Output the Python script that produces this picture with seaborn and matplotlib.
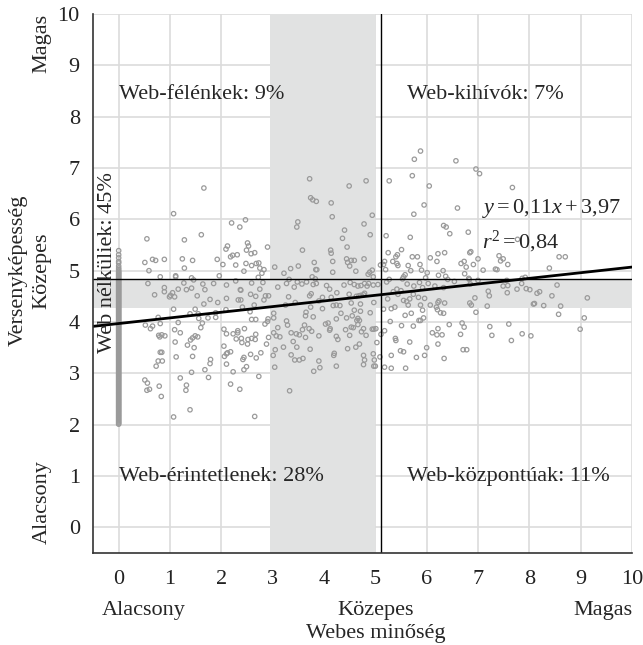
import numpy as np
import pandas as pd
import matplotlib
matplotlib.use("Agg")
import matplotlib.pyplot as plt
import matplotlib.transforms as mtransforms
import seaborn as sns

# ---------------------------------------------------------------
# data: (web quality, competitiveness)
# ---------------------------------------------------------------
# firms with a website, low web quality (0 < x < ~3)
pts_low = [
    (1.66, 6.61), (1.07, 6.11), (0.55, 5.62), (1.61, 5.70), (1.28, 5.60), (2.20, 5.93), (2.47, 5.99), (2.36, 5.85),
    (0.51, 5.16), (0.66, 5.22), (0.72, 5.20), (0.89, 5.22), (0.59, 5.00), (1.24, 5.23), (1.44, 5.20), (1.28, 5.05),
    (1.11, 4.90), (1.11, 4.88), (0.81, 4.88), (0.57, 4.75), (0.89, 4.67), (0.89, 4.59), (0.70, 4.53),
    (0.99, 4.49), (1.05, 4.57), (1.09, 4.49), (1.01, 4.52), (1.16, 4.64), (1.27, 4.76),
    (1.32, 4.63), (1.42, 4.66), (1.42, 4.86), (1.46, 4.82), (1.53, 4.51), (1.64, 4.74), (1.68, 4.63),
    (1.78, 4.44), (1.66, 4.35), (1.85, 4.75), (1.92, 5.22), (2.03, 5.12), (1.96, 4.90), (1.93, 4.38),
    (2.10, 4.72), (2.10, 4.46), (2.09, 4.24), (2.09, 5.42), (2.12, 5.48), (2.18, 5.27), (2.22, 5.30),
    (2.28, 5.11), (2.28, 4.80), (2.37, 4.63), (2.38, 4.62), (2.33, 4.43), (2.38, 4.43),
    (2.51, 5.54), (2.53, 5.48), (2.49, 5.40), (2.58, 5.33), (2.65, 5.35), (2.48, 5.14), (2.44, 4.99), (2.59, 5.10),
    (2.68, 5.14), (2.73, 5.15), (2.75, 5.05), (2.83, 5.02), (2.79, 4.95), (2.72, 4.87), (2.90, 5.46), (2.81, 4.77),
    (2.59, 4.76), (2.57, 4.54), (2.67, 4.50), (2.75, 4.64), (2.86, 4.51), (2.92, 4.51), (2.83, 4.43), (2.64, 4.33),
    (2.41, 4.29), (2.56, 4.20), (2.31, 5.31),
    (0.52, 3.94), (0.62, 3.87), (0.66, 3.92), (0.77, 4.09), (0.81, 3.97), (1.07, 4.25), (1.16, 3.99), (1.09, 3.85),
    (1.20, 3.79), (1.10, 3.61), (1.39, 4.16), (1.49, 4.25), (1.55, 4.16), (1.56, 4.07), (1.63, 3.98), (1.60, 3.89),
    (1.74, 4.08), (1.89, 4.09), (1.89, 4.18),
    (0.80, 3.71), (0.84, 3.75), (0.90, 3.73), (0.78, 3.74), (1.40, 3.65), (1.44, 3.69), (1.49, 3.73), (1.54, 3.71),
    (1.34, 3.55), (1.47, 3.50), (0.81, 3.41), (0.84, 3.41), (0.77, 3.24), (0.85, 3.24), (0.73, 3.14), (1.12, 3.32),
    (1.44, 3.33), (1.79, 3.27), (1.78, 3.19), (1.68, 3.07), (1.75, 2.92), (1.42, 3.02),
    (0.51, 2.87), (0.56, 2.81), (0.55, 2.67), (0.60, 2.69), (0.79, 2.75), (0.83, 2.55),
    (1.20, 2.91), (1.32, 2.77), (1.31, 2.67), (1.39, 2.29), (1.07, 2.15),
    (2.05, 3.86), (2.10, 3.77), (2.23, 3.77), (2.32, 3.79), (2.32, 3.83), (2.39, 3.68), (2.29, 3.67), (2.40, 3.60),
    (2.45, 3.87), (2.52, 3.66), (2.59, 3.68), (2.66, 3.66), (2.67, 3.76), (2.51, 3.57),
    (2.05, 3.53), (2.10, 3.38), (2.06, 3.33), (2.12, 3.40), (2.18, 3.42), (2.10, 3.18), (2.23, 3.03), (2.44, 3.31),
    (2.42, 3.27), (2.49, 3.13), (2.44, 3.07), (2.57, 3.37), (2.68, 3.30), (2.77, 3.40), (2.88, 3.57), (2.92, 3.70),
    (2.85, 3.96), (2.90, 4.01), (2.91, 4.06), (2.67, 4.05), (2.59, 4.05), (2.18, 2.79), (2.36, 2.69), (2.65, 2.16),
    (2.73, 2.94),
]

# medium web quality (~3 .. ~5.1)
pts_mid = [
    (3.72, 6.79), (3.74, 6.42), (3.78, 6.38), (3.85, 6.35), (3.49, 5.95), (3.47, 5.85), (3.58, 5.40),
    (3.04, 5.07), (3.22, 4.95), (3.35, 5.04), (3.50, 5.09),
    (3.10, 4.68), (3.27, 4.75), (3.32, 4.83), (3.42, 4.68), (3.48, 4.78), (3.57, 4.74), (3.66, 4.78),
    (3.31, 4.49), (3.25, 4.33), (3.44, 4.38), (3.72, 4.51), (3.75, 4.55), (3.65, 4.19), (3.64, 4.12), (3.74, 4.29),
    (3.79, 4.10), (3.90, 4.41),
    (3.02, 4.17), (3.02, 4.08), (3.10, 3.89), (3.27, 4.02), (3.29, 3.94), (3.36, 3.79), (3.46, 3.77), (3.52, 3.75),
    (3.58, 3.85), (3.62, 3.94), (3.71, 3.87), (3.76, 3.82), (3.90, 3.73), (3.64, 3.70),
    (3.02, 3.79), (3.07, 3.73), (3.14, 3.71), (3.21, 3.51), (3.05, 3.46), (3.01, 3.35), (3.04, 3.12), (3.40, 3.62),
    (3.47, 3.51), (3.36, 3.36), (3.43, 3.26), (3.52, 3.26), (3.59, 3.29), (3.73, 3.47), (3.90, 3.24), (3.92, 3.11),
    (3.80, 3.04), (3.33, 2.66),
    (4.49, 6.65), (4.82, 6.75), (4.14, 6.32), (4.16, 6.05), (4.94, 6.08), (4.78, 5.91), (4.40, 5.79), (4.36, 5.63),
    (4.45, 5.46), (4.90, 5.70), (4.13, 5.40), (4.14, 5.34), (4.17, 5.18), (4.17, 4.97), (4.44, 5.23), (4.46, 5.16),
    (4.50, 5.09), (4.53, 5.20), (4.59, 5.20), (4.62, 4.99), (4.78, 5.23),
    (3.81, 5.16), (3.84, 5.02), (3.86, 5.02), (3.83, 4.84), (3.77, 4.88),
    (4.86, 4.93), (4.94, 5.01), (4.89, 4.97), (4.96, 4.88), (4.87, 4.75), (4.96, 4.72), (4.79, 4.75), (4.84, 4.70),
    (3.79, 4.73), (3.85, 4.75), (4.05, 4.71), (4.11, 4.64), (4.39, 4.72), (4.51, 4.77), (4.59, 4.73), (4.66, 4.70),
    (4.72, 4.71), (3.97, 4.48), (4.14, 4.48), (4.25, 4.57), (4.49, 4.54), (4.68, 4.51), (4.72, 4.52), (4.77, 4.53),
    (4.79, 4.56), (4.97, 4.38), (5.05, 4.73),
    (3.97, 4.26), (4.18, 4.32), (4.24, 4.33), (4.31, 4.32), (4.53, 4.37), (4.71, 4.35), (4.63, 4.50),
    (4.03, 3.96), (4.08, 3.98), (4.12, 3.87), (4.24, 4.06), (4.33, 4.17), (4.44, 4.08), (4.55, 4.12), (4.59, 4.23),
    (4.71, 4.21), (4.66, 4.07), (4.69, 4.03), (4.90, 4.18),
    (4.11, 3.84), (4.24, 3.72), (4.27, 3.66), (4.42, 3.85), (4.50, 3.74), (4.53, 3.90), (4.57, 3.89), (4.64, 4.03),
    (4.66, 3.95), (4.73, 3.81), (4.77, 3.87), (4.82, 3.74), (4.94, 3.86), (4.97, 3.86), (5.01, 3.87),
    (4.46, 3.48), (4.62, 3.51), (4.69, 3.57), (4.96, 3.38), (4.77, 3.35), (4.79, 3.26), (4.77, 3.17), (4.98, 3.26),
    (5.00, 3.14), (4.97, 3.14), (4.19, 3.35), (4.20, 3.39), (4.24, 3.14),
    (5.03, 3.60), (5.09, 3.32), (5.11, 3.76), (5.10, 5.11),
]

# high web quality (> ~5.1)
pts_high = [
    (5.16, 5.12), (5.88, 7.33), (5.76, 7.17), (6.57, 7.14), (5.72, 6.85), (5.27, 6.75), (6.05, 6.65), (6.96, 6.98),
    (7.03, 6.89), (5.95, 6.28), (6.60, 6.22), (5.75, 6.10), (6.33, 5.88), (6.38, 5.85), (6.45, 5.72), (6.81, 5.75),
    (5.21, 5.68), (5.68, 5.65),
    (5.51, 5.41), (5.25, 5.35), (5.40, 5.27), (5.43, 5.31), (5.72, 5.27), (5.82, 5.27), (6.07, 5.25), (6.22, 5.33),
    (6.35, 5.35), (6.84, 5.35), (6.86, 5.37), (7.00, 5.23),
    (5.18, 5.18), (5.34, 5.18), (5.42, 5.14), (5.44, 5.10), (5.64, 5.10), (5.87, 5.12), (6.20, 5.18), (6.67, 5.14),
    (6.73, 5.18), (6.77, 5.07), (6.91, 5.12),
    (5.20, 5.02), (5.27, 4.83), (5.55, 4.88), (5.58, 4.92), (5.69, 5.00), (5.90, 5.01), (6.01, 4.96), (5.98, 4.86),
    (6.23, 4.91), (6.32, 5.00), (6.37, 4.89), (6.41, 4.83), (6.74, 4.94), (6.82, 4.85), (7.10, 5.01),
    (5.22, 4.78), (5.42, 4.64), (5.50, 4.61), (5.53, 4.84), (5.62, 4.74), (5.75, 4.70), (5.86, 4.77), (5.92, 4.67),
    (6.03, 4.75), (6.16, 4.70), (6.33, 4.67), (6.54, 4.79), (6.83, 4.83), (6.85, 4.74), (7.00, 4.81),
    (5.24, 4.45), (5.35, 4.59), (5.44, 4.54), (5.55, 4.42), (5.61, 4.40), (5.67, 4.45), (5.74, 4.54), (5.84, 4.48),
    (5.96, 4.46), (6.24, 4.41), (6.22, 4.38), (6.35, 4.37), (6.84, 4.37), (6.87, 4.33), (6.94, 4.47), (7.20, 4.60),
    (7.22, 4.51),
    (5.16, 4.25), (5.31, 4.26), (5.38, 4.29), (5.64, 4.33), (5.70, 4.17), (5.58, 4.13), (5.88, 4.33), (5.92, 4.23),
    (5.94, 4.08), (5.88, 4.03), (6.07, 4.33), (6.19, 4.29), (6.21, 4.24), (6.27, 4.18), (6.33, 4.17), (6.96, 4.19),
    (5.18, 3.83), (5.29, 4.01), (5.51, 3.93), (5.74, 3.92), (5.85, 4.03), (6.22, 3.87), (6.44, 3.95), (6.69, 3.98),
    (6.73, 3.90), (6.66, 3.76), (6.11, 3.79), (6.20, 3.75), (6.30, 3.75), (6.22, 3.57), (5.67, 3.61), (6.00, 3.50),
    (5.39, 3.68), (5.40, 3.64),
    (5.49, 3.44), (5.55, 3.42), (5.31, 3.35), (5.80, 3.31), (5.96, 3.35), (6.34, 3.29), (6.71, 3.46), (6.78, 3.46),
    (5.18, 3.12), (5.31, 3.10), (5.59, 3.10),
    (7.67, 6.62), (7.77, 5.61), (7.41, 5.29), (7.44, 5.19), (7.49, 5.23), (7.58, 5.12), (8.58, 5.27), (8.70, 5.27),
    (7.34, 5.03), (7.37, 5.02), (8.39, 5.05), (7.92, 4.87), (7.86, 4.85), (7.56, 4.81),
    (7.49, 4.70), (7.58, 4.71), (7.76, 4.64), (7.85, 4.75), (7.94, 4.65), (8.01, 4.63), (8.15, 4.56), (8.20, 4.59),
    (8.54, 4.72), (8.44, 4.51), (7.18, 4.31), (7.57, 4.57), (8.08, 4.35), (8.10, 4.36), (8.28, 4.32), (8.61, 4.31),
    (9.13, 4.47), (8.57, 4.15), (9.07, 4.08),
    (7.23, 3.91), (7.27, 3.74), (7.60, 3.96), (7.65, 3.64), (7.86, 3.77), (8.03, 3.73), (8.99, 3.86),
]

# firms without a website (all at x = 0)
noweb_y = [
    2.01, 2.03, 2.05, 2.07, 2.09, 2.11, 2.13, 2.15, 2.17, 2.19,
    2.21, 2.23, 2.25, 2.27, 2.29, 2.31, 2.33, 2.35, 2.37, 2.39,
    2.41, 2.43, 2.45, 2.47, 2.49, 2.51, 2.53, 2.55, 2.57, 2.59,
    2.61, 2.63, 2.65, 2.67, 2.69, 2.71, 2.73, 2.75, 2.77, 2.79,
    2.81, 2.83, 2.85, 2.87, 2.89, 2.91, 2.93, 2.95, 2.97, 2.99,
    3.01, 3.03, 3.05, 3.07, 3.09, 3.11, 3.13, 3.15, 3.17, 3.19,
    3.21, 3.23, 3.25, 3.27, 3.29, 3.31, 3.33, 3.35, 3.37, 3.39,
    3.41, 3.43, 3.45, 3.47, 3.49, 3.51, 3.53, 3.55, 3.57, 3.59,
    3.61, 3.63, 3.65, 3.67, 3.69, 3.71, 3.73, 3.75, 3.77, 3.79,
    3.81, 3.83, 3.85, 3.87, 3.89, 3.91, 3.93, 3.95, 3.97, 3.99,
    4.01, 4.03, 4.05, 4.07, 4.09, 4.11, 4.13, 4.15, 4.17, 4.19,
    4.21, 4.23, 4.25, 4.27, 4.29, 4.31, 4.33, 4.35, 4.37, 4.39,
    4.41, 4.43, 4.45, 4.47, 4.49, 4.51, 4.53, 4.55, 4.57, 4.59,
    4.61, 4.63, 4.65, 4.67, 4.69, 4.71, 4.73, 4.75, 4.77, 4.79,
    4.81, 4.83, 4.85, 4.87, 4.89, 4.91, 4.93, 4.95, 4.97, 4.99,
    5.02, 5.05, 5.09, 5.15, 5.18, 5.25, 5.31, 5.39,
]

# regression
slope, intercept, r2 = 0.11, 3.97, 0.84

# group borders (medium bands + splitting lines)
band_x = (2.94, 5.0)
band_y = (4.27, 4.83)
split_x, split_y = 5.12, 4.83

quadrant_labels = ["Web-félénkek: 9%", "Web-kihívók: 7%", "Web-érintetlenek: 28%", "Web-központúak: 11%"]
noweb_label = "Web nélküliek: 45%"

# ---------------------------------------------------------------
df = pd.DataFrame(pts_low + pts_mid + pts_high, columns=["web", "comp"])
df = pd.concat([df, pd.DataFrame({"web": 0.0, "comp": noweb_y})], ignore_index=True)

sns.set_style("white")
plt.rcParams["font.family"] = ["Liberation Serif", "DejaVu Serif"]
plt.rcParams["mathtext.fontset"] = "custom"
plt.rcParams["mathtext.rm"] = "Liberation Serif"
plt.rcParams["mathtext.it"] = "Liberation Serif:italic"

FS = 16
fig = plt.figure(figsize=(6.43, 6.45), dpi=100)
ax = fig.add_axes([93 / 643, 92 / 645, 539 / 643, 539 / 645])

ax.set_xlim(-0.5, 10)
ax.set_ylim(-0.5, 10)
ax.set_xticks(range(0, 11))
ax.set_yticks(range(0, 11))
ax.grid(True, color="#dcdcdc", lw=1.2, zorder=0)
ax.set_axisbelow(True)

ax.axvspan(*band_x, color="#e1e2e2", lw=0, zorder=1)
ax.axhspan(*band_y, color="#e1e2e2", lw=0, zorder=1)

sns.scatterplot(data=df, x="web", y="comp", ax=ax, s=10, marker="o",
                facecolor="none", edgecolor="#9a9a9a", linewidth=0.9, zorder=3)

line_x = np.array([-0.5, 10])
sns.lineplot(x=line_x, y=slope * line_x + intercept, ax=ax, color="black", lw=2.0, zorder=5)
ax.axvline(split_x, color="black", lw=1.0, zorder=4)
ax.axhline(split_y, color="black", lw=1.0, zorder=4)

for s in ["top", "right"]:
    ax.spines[s].set_visible(False)
for s in ["left", "bottom"]:
    ax.spines[s].set_color("#333333")
    ax.spines[s].set_linewidth(1.2)
    ax.spines[s].set_zorder(6)

ax.tick_params(axis="both", direction="out", length=5.5, width=1.0, color="#333333",
               labelsize=FS, labelcolor="#222222")
ax.tick_params(axis="x", pad=7)
ax.tick_params(axis="y", pad=4)
ax.set_xlabel("")
ax.set_ylabel("")

# quadrant labels
ax.text(0.0, 8.34, quadrant_labels[0], fontsize=FS, va="baseline", ha="left", zorder=7)
ax.text(5.62, 8.34, quadrant_labels[1], fontsize=FS, va="baseline", ha="left", zorder=7)
ax.text(0.0, 0.90, quadrant_labels[2], fontsize=FS, va="baseline", ha="left", zorder=7)
ax.text(5.62, 0.90, quadrant_labels[3], fontsize=FS, va="baseline", ha="left", zorder=7)
ax.text(-0.21, 5.15, noweb_label, fontsize=FS, rotation=90, va="center", ha="center", zorder=7)

# regression equation
ax.text(7.08, 6.12, r"$y = 0{,}11x + 3{,}97$", fontsize=FS, va="baseline", ha="left", zorder=7)
ax.text(7.08, 5.44, r"$r^2 = 0{,}84$", fontsize=FS, va="baseline", ha="left", zorder=7)

# axis captions
tx = mtransforms.blended_transform_factory(ax.transData, ax.transAxes)
ax.text(-0.32, -0.115, "Alacsony", transform=tx, fontsize=FS, ha="left", va="baseline")
ax.text(5.0, -0.115, "Közepes", transform=tx, fontsize=FS, ha="center", va="baseline")
ax.text(10.0, -0.115, "Magas", transform=tx, fontsize=FS, ha="right", va="baseline")
ax.text(5.0, -0.158, "Webes minőség", transform=tx, fontsize=FS, ha="center", va="baseline")

ty = mtransforms.blended_transform_factory(ax.transAxes, ax.transData)
ax.text(-0.139, 5.0, "Versenyképesség", transform=ty, fontsize=FS, rotation=90, ha="center", va="center")
ax.text(-0.095, 5.0, "Közepes", transform=ty, fontsize=FS, rotation=90, ha="center", va="center")
ax.text(-0.095, 10.0, "Magas", transform=ty, fontsize=FS, rotation=90, ha="center", va="top")
ax.text(-0.095, -0.33, "Alacsony", transform=ty, fontsize=FS, rotation=90, ha="center", va="bottom")

fig.savefig("out.png", dpi=100)
